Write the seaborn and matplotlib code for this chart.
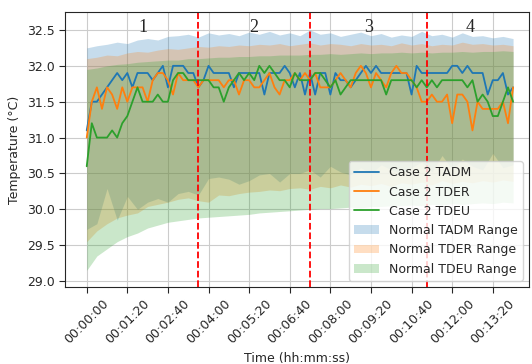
import numpy as np
import pandas as pd
import matplotlib
matplotlib.use("Agg")
import matplotlib.pyplot as plt
from matplotlib.ticker import FuncFormatter, MultipleLocator
import seaborn as sns

# --- Data ---
# line samples every 10 s, 0 .. 840 s
t_line = list(range(0, 850, 10))

tadm = [31.1, 31.5, 31.5, 31.6, 31.7, 31.8, 31.9, 31.8, 31.9, 31.7,
        31.9, 31.9, 31.9, 31.8, 31.9, 32.0, 31.7, 32.0, 32.0, 32.0,
        31.9, 31.9, 31.7, 31.8, 32.0, 31.9, 31.9, 31.9, 31.9, 31.7,
        31.9, 31.9, 31.9, 31.9, 31.9, 31.6, 31.9, 31.9, 31.9, 32.0,
        31.9, 31.7, 31.9, 31.6, 31.9, 31.6, 31.9, 31.9, 31.6, 31.9,
        31.8, 31.8, 31.7, 31.8, 31.9, 32.0, 31.9, 32.0, 31.9, 31.9,
        31.9, 31.9, 31.9, 31.9, 31.6, 32.0, 31.9, 31.9, 31.9, 31.9,
        31.9, 31.9, 32.0, 32.0, 31.9, 32.0, 31.9, 31.9, 31.9, 31.6,
        31.8, 31.8, 31.9, 31.6, 31.7]

tder = [31.0, 31.5, 31.7, 31.4, 31.7, 31.6, 31.4, 31.7, 31.5, 31.7,
        31.7, 31.7, 31.5, 31.8, 31.9, 31.9, 31.8, 31.6, 31.9, 31.8,
        31.8, 31.8, 31.7, 31.8, 31.8, 31.8, 31.8, 31.7, 31.8, 31.8,
        31.6, 31.8, 31.8, 31.7, 31.7, 31.8, 31.9, 31.7, 31.6, 31.8,
        31.8, 31.9, 31.8, 31.9, 31.8, 31.9, 31.7, 31.7, 31.7, 31.8,
        31.9, 31.8, 31.7, 31.9, 32.0, 31.9, 31.7, 31.9, 31.8, 31.7,
        31.9, 32.0, 31.9, 31.9, 31.8, 31.7, 31.5, 31.5, 31.6, 31.5,
        31.5, 31.6, 31.2, 31.6, 31.6, 31.5, 31.1, 31.5, 31.4, 31.4,
        31.4, 31.4, 31.5, 31.2, 31.7]

tdeu = [30.6, 31.2, 31.0, 31.0, 31.0, 31.1, 31.0, 31.2, 31.3, 31.5,
        31.7, 31.5, 31.5, 31.5, 31.6, 31.5, 31.5, 31.8, 31.9, 31.9,
        31.8, 31.8, 31.8, 31.8, 31.8, 31.7, 31.7, 31.5, 31.7, 31.8,
        31.9, 31.8, 31.9, 31.8, 32.0, 31.9, 32.0, 31.9, 31.8, 31.8,
        31.7, 31.9, 31.8, 31.8, 31.8, 31.9, 31.9, 31.8, 31.7, 31.8,
        31.6, 31.7, 31.8, 31.8, 31.8, 31.8, 31.8, 31.8, 31.8, 31.6,
        31.8, 31.8, 31.8, 31.8, 31.8, 31.7, 31.8, 31.7, 31.8, 31.7,
        31.8, 31.8, 31.8, 31.8, 31.8, 31.7, 31.8, 31.5, 31.6, 31.5,
        31.3, 31.3, 31.5, 31.7, 31.5]

# normal ranges, every 20 s
t_band = list(range(0, 850, 20))

tadm_hi = [32.25, 32.28, 32.30, 32.33, 32.31, 32.36, 32.38, 32.36, 32.41, 32.42,
           32.44, 32.40, 32.46, 32.43, 32.45, 32.42, 32.47, 32.44, 32.48, 32.43,
           32.46, 32.42, 32.50, 32.44, 32.46, 32.41, 32.44, 32.47, 32.42, 32.45,
           32.40, 32.43, 32.41, 32.48, 32.42, 32.44, 32.40, 32.46, 32.41, 32.42,
           32.39, 32.41, 32.38]
tadm_lo = [29.72, 29.80, 30.29, 29.85, 30.18, 30.00, 30.10, 30.15, 30.10, 30.22,
           30.25, 30.20, 30.43, 30.45, 30.42, 30.35, 30.40, 30.48, 30.50, 30.38,
           30.50, 30.50, 30.55, 30.45, 30.60, 30.52, 30.48, 30.58, 30.50, 30.62,
           30.55, 30.50, 30.58, 30.66, 30.52, 30.75, 30.56, 30.70, 30.60, 30.55,
           30.78, 30.58, 30.62]

tder_hi = [32.10, 32.12, 32.15, 32.14, 32.18, 32.20, 32.19, 32.22, 32.24, 32.23,
           32.25, 32.27, 32.26, 32.28, 32.27, 32.29, 32.28, 32.30, 32.29, 32.31,
           32.28, 32.30, 32.32, 32.29, 32.31, 32.30, 32.28, 32.31, 32.29, 32.30,
           32.28, 32.32, 32.29, 32.31, 32.28, 32.30, 32.29, 32.33, 32.30, 32.31,
           32.29, 32.30, 32.28]
tder_lo = [29.55, 29.70, 29.80, 29.88, 29.92, 29.95, 30.04, 30.07, 30.10, 30.14,
           30.16, 30.12, 30.10, 30.20, 30.19, 30.22, 30.24, 30.25, 30.27, 30.26,
           30.29, 30.30, 30.28, 30.32, 30.30, 30.34, 30.31, 30.35, 30.33, 30.36,
           30.32, 30.37, 30.35, 30.38, 30.34, 30.40, 30.36, 30.39, 30.37, 30.40,
           30.38, 30.41, 30.39]

tdeu_hi = [31.95, 31.97, 32.00, 32.02, 32.03, 32.05, 32.06, 32.07, 32.08, 32.08,
           32.10, 32.10, 32.11, 32.12, 32.12, 32.13, 32.13, 32.14, 32.14, 32.15,
           32.15, 32.15, 32.16, 32.16, 32.17, 32.16, 32.17, 32.18, 32.17, 32.18,
           32.18, 32.19, 32.18, 32.19, 32.18, 32.19, 32.19, 32.20, 32.19, 32.20,
           32.20, 32.21, 32.20]
tdeu_lo = [29.15, 29.35, 29.45, 29.55, 29.62, 29.67, 29.74, 29.78, 29.82, 29.84,
           29.86, 29.88, 29.89, 29.90, 29.91, 29.92, 29.93, 29.95, 29.96, 29.97,
           29.98, 29.99, 30.00, 30.01, 30.01, 30.02, 30.03, 30.02, 30.04, 30.04,
           30.05, 30.05, 30.06, 30.05, 30.07, 30.06, 30.08, 30.07, 30.08, 30.09,
           30.08, 30.10, 30.09]

# phase boundaries (s) and phase labels
phase_bounds = [220, 440, 670]
phase_labels = ["1", "2", "3", "4"]
phase_label_x = [110, 330, 555, 755]

# --- Plot ---
sns.set_style("ticks", {"axes.grid": True})
plt.rcParams['font.family'] = ['DejaVu Sans']

fig = plt.figure(figsize=(5.32, 3.64), dpi=100)
ax = fig.add_axes([0.122, 0.212, 0.872, 0.755])

blue, orange, green = "#1f77b4", "#ff7f0e", "#2ca02c"

ax.fill_between(t_band, tadm_lo, tadm_hi, color=blue, alpha=0.25, linewidth=0, label="Normal TADM Range")
ax.fill_between(t_band, tder_lo, tder_hi, color=orange, alpha=0.25, linewidth=0, label="Normal TDER Range")
ax.fill_between(t_band, tdeu_lo, tdeu_hi, color=green, alpha=0.25, linewidth=0, label="Normal TDEU Range")

df = pd.DataFrame({"t": t_line, "TADM": tadm, "TDER": tder, "TDEU": tdeu})
sns.lineplot(data=df, x="t", y="TADM", color=blue, linewidth=1.3, label="Case 2 TADM", ax=ax)
sns.lineplot(data=df, x="t", y="TDER", color=orange, linewidth=1.3, label="Case 2 TDER", ax=ax)
sns.lineplot(data=df, x="t", y="TDEU", color=green, linewidth=1.3, label="Case 2 TDEU", ax=ax)

for b in phase_bounds:
    ax.axvline(b, color="red", linestyle="--", linewidth=1.3)
for lx, lab in zip(phase_label_x, phase_labels):
    ax.text(lx, 32.53, lab, fontsize=13, family="Liberation Serif", ha="center", va="center")

ax.set_xlim(-43, 871)
ax.set_ylim(28.92, 32.75)
ax.xaxis.set_major_locator(MultipleLocator(80))
ax.yaxis.set_major_locator(MultipleLocator(0.5))
ax.xaxis.set_major_formatter(FuncFormatter(
    lambda v, p: f"{int(v) // 3600:02d}:{int(v) % 3600 // 60:02d}:{int(v) % 60:02d}"))
ax.yaxis.set_major_formatter(FuncFormatter(lambda v, p: f"{v:.1f}"))
ax.tick_params(axis="both", labelsize=9, length=4)
plt.setp(ax.get_xticklabels(), rotation=45)

ax.set_xlabel("Time (hh:mm:ss)", fontsize=9)
ax.set_ylabel("Temperature (°C)", fontsize=9)

handles, labels = ax.get_legend_handles_labels()
order = ["Case 2 TADM", "Case 2 TDER", "Case 2 TDEU",
         "Normal TADM Range", "Normal TDER Range", "Normal TDEU Range"]
hmap = dict(zip(labels, handles))
ax.legend([hmap[k] for k in order], order, loc="lower right", fontsize=9)

fig.savefig("out.png", dpi=100)
